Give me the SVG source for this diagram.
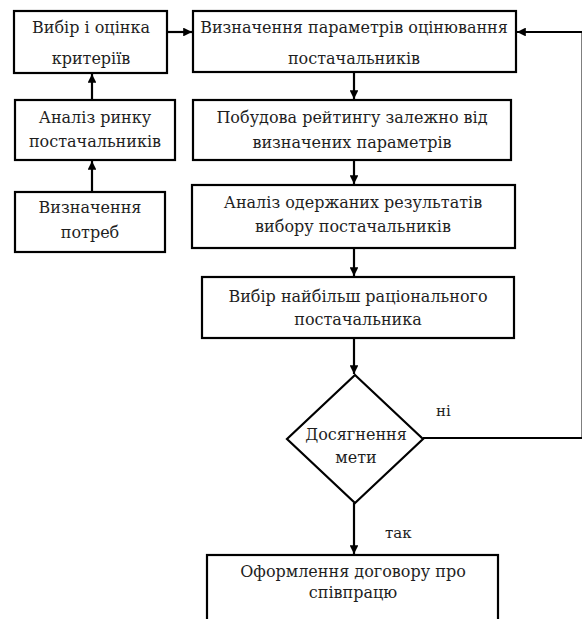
<svg xmlns="http://www.w3.org/2000/svg" width="582" height="619" viewBox="0 0 582 619">
<style>
.box{fill:#fff;stroke:#000;stroke-width:2.2}
.t{font-family:'DejaVu Serif','Liberation Serif',serif;font-size:16px;fill:#1e1e1e;text-anchor:middle}
.lbl{font-family:'DejaVu Serif','Liberation Serif',serif;font-size:15px;fill:#1e1e1e}
.c{fill:none;stroke:#000;stroke-width:2.2}
</style>
<defs>
<marker id="ah" viewBox="0 0 10 10" refX="10" refY="5" markerWidth="4" markerHeight="4" orient="auto" markerUnits="strokeWidth">
<path d="M0,0 L10,5 L0,10 z" fill="#000"/>
</marker>
</defs>
<rect width="582" height="619" fill="#fff"/>
<g id="connectors">
<line class="c" x1="168" y1="32" x2="192" y2="32" marker-end="url(#ah)"/>
<polyline class="c" points="423,438 582.6,438 582.6,32 517,32" marker-end="url(#ah)"/>
<line class="c" x1="92" y1="100" x2="92" y2="74" marker-end="url(#ah)"/>
<line class="c" x1="92" y1="192" x2="92" y2="161" marker-end="url(#ah)"/>
<line class="c" x1="354" y1="72" x2="354" y2="99" marker-end="url(#ah)"/>
<line class="c" x1="354" y1="160" x2="354" y2="184" marker-end="url(#ah)"/>
<line class="c" x1="354" y1="248" x2="354" y2="276" marker-end="url(#ah)"/>
<line class="c" x1="354" y1="338" x2="354" y2="374" stroke-width="3.2" marker-end="url(#ah)"/>
<line class="c" x1="354" y1="503" x2="354" y2="554" marker-end="url(#ah)"/>
<text class="lbl" x="436" y="416">ні</text>
<text class="lbl" x="385" y="538">так</text>
</g>
<g id="n_kryterii">
<rect class="box" x="14" y="11" width="153" height="62"/>
<text class="t" x="91" y="33">Вибір і оцінка</text>
<text class="t" x="91" y="64">критеріїв</text>
</g>
<g id="n_rynok">
<rect class="box" x="15" y="100" width="160" height="60"/>
<text class="t" x="95" y="123">Аналіз ринку</text>
<text class="t" x="95" y="147">постачальників</text>
</g>
<g id="n_potreby">
<rect class="box" x="15" y="192" width="150" height="60"/>
<text class="t" x="90" y="213">Визначення</text>
<text class="t" x="90" y="238">потреб</text>
</g>
<g id="n_parametry">
<rect class="box" x="193" y="11" width="323" height="61"/>
<text class="t" x="354" y="33">Визначення параметрів оцінювання</text>
<text class="t" x="354" y="64">постачальників</text>
</g>
<g id="n_reitynh">
<rect class="box" x="193" y="100" width="318" height="60"/>
<text class="t" x="352" y="123">Побудова рейтингу залежно від</text>
<text class="t" x="352" y="148">визначених параметрів</text>
</g>
<g id="n_analiz">
<rect class="box" x="192" y="185" width="323" height="63"/>
<text class="t" x="353" y="208">Аналіз одержаних результатів</text>
<text class="t" x="353" y="232">вибору постачальників</text>
</g>
<g id="n_vybir">
<rect class="box" x="202" y="277" width="312" height="61"/>
<text class="t" x="358" y="302">Вибір найбільш раціонального</text>
<text class="t" x="358" y="325">постачальника</text>
</g>
<g id="n_meta">
<polygon class="box" points="355,375 423,439 355,503 287,439"/>
<text class="t" x="356" y="440">Досягнення</text>
<text class="t" x="356" y="463">мети</text>
</g>
<g id="n_dohovir">
<rect class="box" x="207" y="555" width="291" height="80"/>
<text class="t" x="353" y="577">Оформлення договору про</text>
<text class="t" x="353" y="598">співпрацю</text>
</g>
</svg>
